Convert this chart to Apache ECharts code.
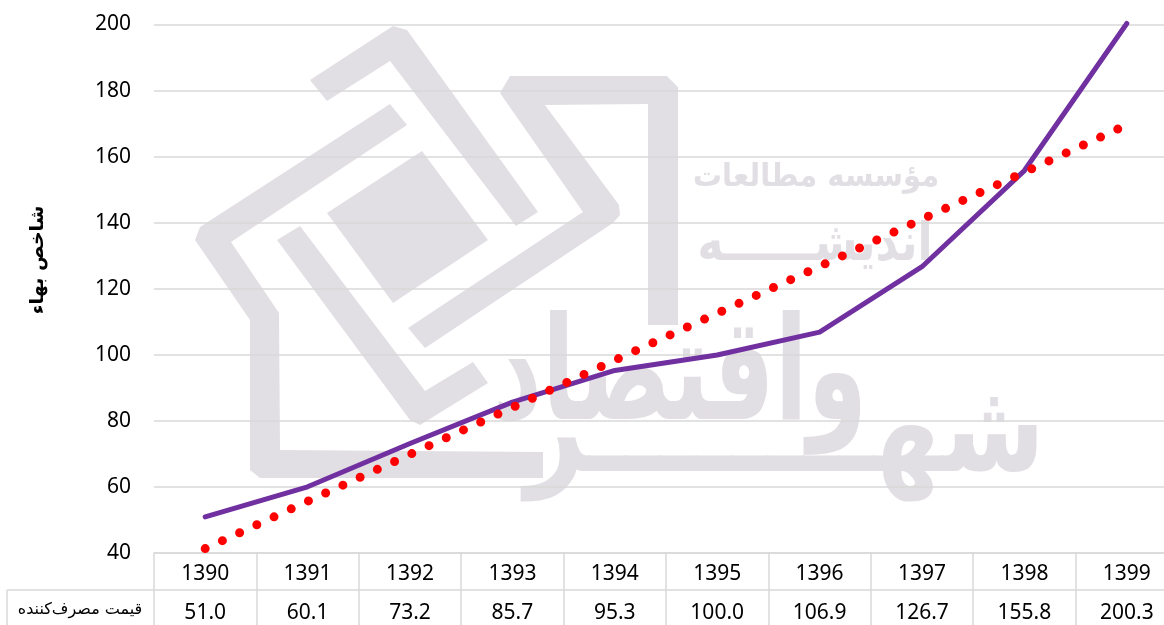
<!DOCTYPE html>
<html><head><meta charset="utf-8">
<style>html,body{margin:0;padding:0;background:#fff;overflow:hidden}#c{width:1164px;height:625px}</style>
<script src="https://cdn.jsdelivr.net/npm/echarts@6/dist/echarts.min.js"></script>
</head><body><div id="c"></div>
<script>
const years = ['1390','1391','1392','1393','1394','1395','1396','1397','1398','1399'];
const cpi = [51.0,60.1,73.2,85.7,95.3,100.0,106.9,126.7,155.8,200.3];
const trend = [41.4,55.7,69.9,84.1,98.4,112.6,126.8,141.1,155.3,169.6];
const yTitle = 'شاخص بهاء';
const rowTitle = 'قیمت مصرف‌کننده';
const FONT = '"Noto Sans", sans-serif';
const WM = '#E2DFE4', GRID = '#D9D9D9';

const logo = [
 [[310,80],[393,26],[407,30],[538,212],[516,226],[390,61],[327,101]],
 [[390,104],[407,125],[231,242],[279,313],[280,450],[543,452],[543,478],[260,478],[250,470],[250,320],[195,240],[200,227]],
 [[422,151],[488,240],[393,303],[327,213]],
 [[300,226],[425,391],[473,362],[488,383],[420,425],[410,420],[277,240]],
 [[500,93],[510,76],[667,76],[678,87],[678,325],[648,325],[648,104],[545,105],[619,205],[620,215],[613,223],[425,348],[408,328],[583,212]]
];
const graphics = logo.map(p => ({type:'polygon', z:-10, shape:{points:p}, style:{fill:WM}}));
const wmText = (t,x,y,size,sy) => ({type:'text', z:-10, x, y, scaleY:sy||1, style:{text:t, fill:WM, font:'bold '+size+'px "DejaVu Sans"', textAlign:'center', textVerticalAlign:'middle'}});
graphics.push(
  wmText('مؤسسه مطالعات',816,178,29,1.1),
  wmText('اندیشــــــه',815,246,44,1.2),
  wmText('واقتصاد',680,382,96,1.5),
  wmText('شهــــــــر',785,439,104,1.2)
);
const tableLine = (x1,y1,x2,y2) => ({type:'line', z:1, shape:{x1,y1,x2,y2}, style:{stroke:GRID, lineWidth:1.5}});
graphics.push(
  tableLine(7,590,1164,590),
  tableLine(7,590,7,625),
  {type:'text', z:3, x:80, y:610, style:{text:rowTitle, fill:'#000', font:'16px "DejaVu Sans"', textAlign:'center', textVerticalAlign:'middle'}}
);

const chart = echarts.init(document.getElementById('c'), null, {renderer:'canvas'});
chart.setOption({
  animation:false,
  backgroundColor:'#fff',
  graphic:graphics,
  grid:{left:154, top:24.5, width:1024, height:528.7, containLabel:false, outerBoundsMode:'none'},
  xAxis:{type:'category', data:years, boundaryGap:true,
    axisLine:{lineStyle:{color:GRID,width:1.5}},
    axisTick:{show:true, length:75, interval:0, lineStyle:{color:GRID,width:1.5}},
    axisLabel:{interval:0, margin:2, hideOverlap:false, color:'#000', fontFamily:FONT, verticalAlign:'top',
      formatter:(v,i)=>`{y|${v}}\n{v|${cpi[i].toFixed(1)}}`,
      rich:{y:{fontSize:21,fontFamily:FONT,color:'#000',lineHeight:38.5,height:38.5},
            v:{fontSize:21,fontFamily:FONT,color:'#000',lineHeight:38.5,height:38.5}}}},
  yAxis:{type:'value', min:40, max:200, interval:20,
    name:yTitle, nameLocation:'middle', nameGap:106, nameRotate:90,
    nameTextStyle:{fontFamily:'"DejaVu Sans"',fontWeight:'bold',fontSize:19,color:'#000',padding:[0,0,0,58]},
    axisLine:{show:false}, axisTick:{show:false},
    axisLabel:{margin:23,color:'#000',fontSize:21,fontFamily:FONT,padding:[3,0,0,0]},
    splitLine:{lineStyle:{color:GRID,width:1.5}}},
  series:[
   {name:'trend', type:'line', data:trend, symbol:'none', z:3, clip:false,
    lineStyle:{color:'#FF0000',width:9,type:[0,18.95],cap:'round'}},
   {name:'cpi', type:'line', data:cpi, symbol:'none', z:2, clip:false,
    lineStyle:{color:'#7030A0',width:5,cap:'round',join:'round'}}
  ]
});
</script></body></html>
